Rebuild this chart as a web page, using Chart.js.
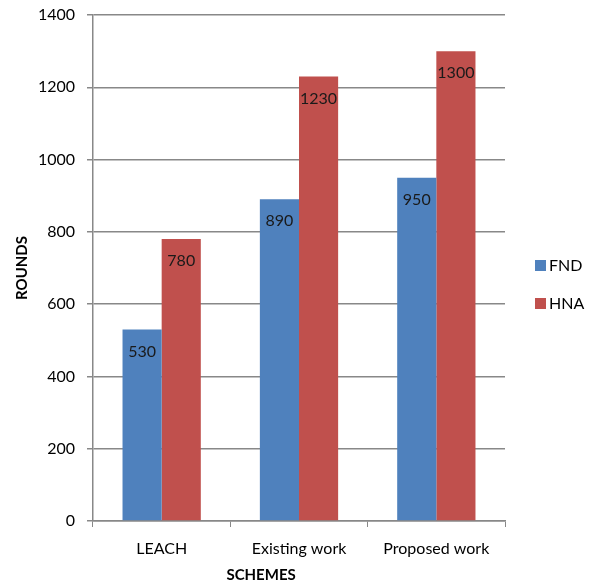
<!DOCTYPE html>
<html>
<head>
<meta charset="utf-8">
<script src="https://cdn.jsdelivr.net/npm/chart.js@4/dist/chart.umd.min.js"></script>
<style>
html,body{margin:0;padding:0;background:#fff;}
#wrap{width:593px;height:588px;position:relative;}
</style>
</head>
<body>
<div id="wrap"><canvas id="c" width="593" height="588"></canvas></div>
<script>
const categories = ["LEACH", "Existing work", "Proposed work"];
const seriesNames = ["FND", "HNA"];
const fndValues = [530, 890, 950];
const hnaValues = [780, 1230, 1300];
const yTicks = [0, 200, 400, 600, 800, 1000, 1200, 1400];
const xTitle = "SCHEMES";
const yTitle = "ROUNDS";

const FONT = "Lato";
const colors = ["#4F81BD", "#C0504D"];

const labelPlugin = {
  id: "barLabels",
  afterDatasetsDraw(chart) {
    const ctx = chart.ctx;
    ctx.save();
    ctx.font = "16px " + FONT;
    ctx.fillStyle = "#1a1a1a";
    ctx.textAlign = "center";
    ctx.textBaseline = "middle";
    chart.data.datasets.forEach((ds, i) => {
      const meta = chart.getDatasetMeta(i);
      meta.data.forEach((bar, j) => {
        ctx.fillText(String(ds.data[j]), bar.x, bar.y + 22);
      });
    });
    ctx.restore();
  }
};

const extrasPlugin = {
  id: "extras",
  afterDraw(chart) {
    const ctx = chart.ctx;
    const a = chart.chartArea;
    ctx.save();
    ctx.font = "bold 15px " + FONT;
    ctx.fillStyle = "#000";
    ctx.textAlign = "center";
    ctx.textBaseline = "middle";
    ctx.fillText(xTitle, a.left + (a.right - a.left) * 0.408, 575);
    ctx.font = "16px " + FONT;
    ctx.textAlign = "left";
    seriesNames.forEach((n, i) => {
      const y = 266 + i * 38;
      ctx.fillStyle = colors[i];
      ctx.fillRect(535, y - 6, 11, 11);
      ctx.fillStyle = "#000";
      ctx.fillText(n, 549, y);
    });
    ctx.restore();
  }
};

new Chart(document.getElementById("c"), {
  type: "bar",
  data: {
    labels: categories,
    datasets: [
      { label: seriesNames[0], data: fndValues, backgroundColor: colors[0], borderWidth: 0 },
      { label: seriesNames[1], data: hnaValues, backgroundColor: colors[1], borderWidth: 0 }
    ]
  },
  options: {
    responsive: false,
    animation: false,
    devicePixelRatio: 1,
    layout: { padding: { left: 0, right: 88, top: 15, bottom: 0 } },
    plugins: { legend: { display: false }, tooltip: { enabled: false } },
    datasets: { bar: { categoryPercentage: 0.57, barPercentage: 1.0 } },
    scales: {
      x: {
        grid: { display: true, drawOnChartArea: false, drawTicks: true, tickLength: 6, color: "#888", offset: true },
        border: { color: "#888", width: 1.5 },
        ticks: { color: "#000", font: { family: FONT, size: 16 }, padding: 12, maxRotation: 0 },
        afterFit(s) { s.height = 67; s.paddingLeft = 0; s.paddingRight = 0; }
      },
      y: {
        min: 0, max: 1400,
        afterBuildTicks(s) { s.ticks = yTicks.map(v => ({ value: v })); },
        grid: { color: "#888", lineWidth: 1.5, tickLength: 6 },
        border: { color: "#888", width: 1.5 },
        ticks: { color: "#000", font: { family: FONT, size: 16 }, padding: 12, callback: v => String(v) },
        title: { display: true, text: yTitle, color: "#000", font: { family: FONT, size: 15, weight: "bold" }, padding: { top: 13, bottom: 14 } },
        afterFit(s) { s.width = 93; s.paddingTop = 0; s.paddingBottom = 0; }
      }
    }
  },
  plugins: [labelPlugin, extrasPlugin]
});
</script>
</body>
</html>
